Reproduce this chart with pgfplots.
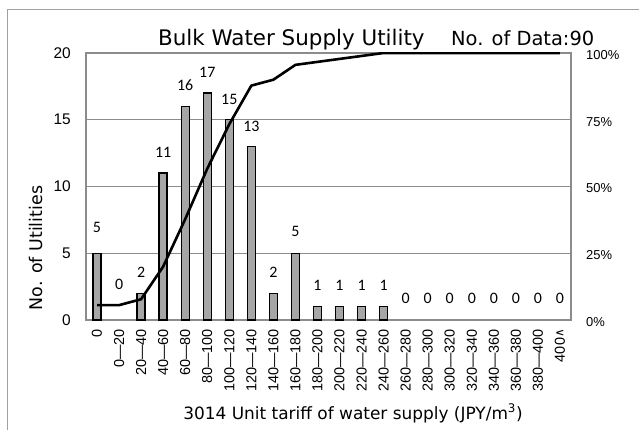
\documentclass[border=0pt]{standalone}
\usepackage{pgfplots}
\pgfplotsset{compat=1.18}
\usepackage{fontspec}
\setmainfont{DejaVu Sans}
\newfontfamily\libfont{Liberation Sans}
\newfontfamily\calfont{Carlito}
\newfontfamily\djvfont{DejaVu Sans}
\definecolor{barfill}{HTML}{A6A6A6}
\definecolor{gridc}{HTML}{8C8C8C}
\definecolor{borderc}{HTML}{A0A0A0}
\begin{document}
\begin{tikzpicture}
\useasboundingbox (0,0) rectangle (639bp,430bp);
\draw[color=borderc, line width=1bp] (7bp,0) -- (7bp,420bp) -- (639bp,420bp);
\begin{axis}[
  at={(86bp,110bp)}, anchor=south west, scale only axis,
  width=485bp, height=267bp,
  xmin=-0.5, xmax=21.5, ymin=0, ymax=20,
  xtick={0,...,21},
  xticklabels={0,0—20,20—40,40—60,60—80,80—100,100—120,120—140,140—160,160—180,180—200,200—220,220—240,240—260,260—280,280—300,300—320,320—340,340—360,360—380,380—400,{400\raisebox{1.5bp}{\djvfont\fontsize{12}{12}\selectfont ∧}}},
  xticklabel style={rotate=90, anchor=east, inner xsep=9bp, inner ysep=0pt, font=\libfont\fontsize{14.5}{14.5}\selectfont},
  ytick={0,5,10,15,20},
  yticklabel style={anchor=east, inner xsep=15bp, font=\libfont\fontsize{15.5}{15.5}\selectfont, /pgf/number format/assume math mode=true},
  major tick length=0pt,
  ymajorgrids, grid style={gridc, line width=1.2bp},
  axis line style={gridc, line width=1.5bp},
  clip=false,
]
\addplot[ybar, bar width=8bp, bar shift=0pt, fill=barfill, draw=black, line width=1.4bp]
  coordinates {(0,5) (2,2) (3,11) (4,16) (5,17) (6,15) (7,13) (8,2) (9,5) (10,1) (11,1) (12,1) (13,1)};
\addplot[draw=none, mark=none, nodes near coords, point meta=explicit symbolic,
  nodes near coords style={anchor=center, inner sep=0pt, font=\calfont\fontsize{16}{16}\selectfont}]
  table[meta=lab] {
x y lab
0 6.97 5
1 2.70 0
2 3.6 2
3 12.55 11
4 17.6 16
5 18.55 17
6 16.5 15
7 14.5 13
8 3.6 2
9 6.6 5
10 2.6 1
11 2.6 1
12 2.6 1
13 2.6 1
14 1.65 0
15 1.65 0
16 1.65 0
17 1.65 0
18 1.65 0
19 1.65 0
20 1.65 0
21 1.65 0
};
\end{axis}
\begin{axis}[
  at={(86bp,110bp)}, anchor=south west, scale only axis,
  width=485bp, height=267bp,
  xmin=-0.5, xmax=21.5, ymin=0, ymax=100,
  hide x axis, axis y line*=right,
  ytick={0,25,50,75,100},
  yticklabel={\pgfmathprintnumber{\tick}\%},
  yticklabel style={anchor=west, inner xsep=15bp, yshift=-2bp, font=\libfont\fontsize{13}{13}\selectfont, /pgf/number format/assume math mode=true},
  major tick length=0pt,
  axis line style={gridc, line width=1.5bp},
]
\addplot[black, line width=2.6bp, line join=round, mark=none]
  coordinates {(0,5.56) (1,5.56) (2,7.78) (3,20) (4,37.78) (5,56.67) (6,73.33) (7,87.78) (8,90) (9,95.56) (10,96.67) (11,97.78) (12,98.89) (13,100) (14,100) (15,100) (16,100) (17,100) (18,100) (19,100) (20,100) (21,100)};
\end{axis}
\node[anchor=base west, inner sep=0pt, font=\fontsize{21.5}{21.5}\selectfont] at (158bp,384bp) {Bulk Water Supply Utility};
\node[anchor=base west, inner sep=0pt, font=\fontsize{19.5}{19.5}\selectfont] at (451bp,384bp) {No. of Data:90};
\node[rotate=90, anchor=center, inner sep=0pt, font=\fontsize{17.5}{17.5}\selectfont] at (36bp,182bp) {No. of Utilities};
\node[anchor=base, inner sep=0pt, font=\fontsize{17}{17}\selectfont] at (353bp,11bp) {3014 Unit tariff of water supply (JPY/m\textsuperscript{3})};
\end{tikzpicture}
\end{document}
